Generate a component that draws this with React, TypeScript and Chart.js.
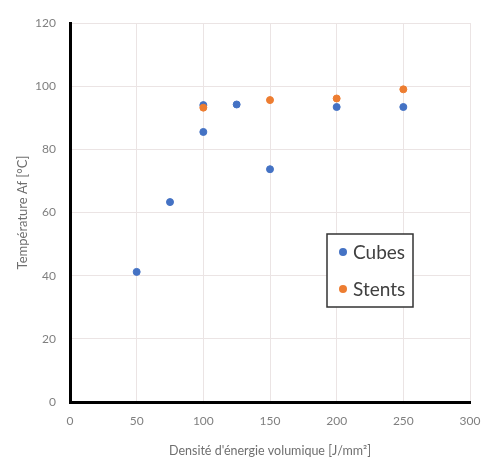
import React, { useEffect, useRef } from "react";
import { Chart, registerables } from "chart.js";

Chart.register(...registerables);

const cubesX = [50, 75, 100, 100, 125, 150, 200, 250];
const cubesY = [41.2, 63.3, 85.5, 94.0, 94.2, 73.7, 93.4, 93.4];
const stentsX = [100, 150, 200, 250];
const stentsY = [93.2, 95.6, 96.1, 99.0];
const seriesNames = ["Cubes", "Stents"];
const xTitle = "Densité d'énergie volumique [J/mm²]";
const yTitle = "Température Af [°C]";

const BLUE = "#4472C4";
const ORANGE = "#ED7D31";
const FONT = "Lato, 'Open Sans', sans-serif";

const legendPlugin = {
  id: "boxLegend",
  afterDraw(chart: any) {
    const ctx = chart.ctx;
    const x = 327, y = 234, w = 86, h = 73;
    ctx.save();
    ctx.fillStyle = "#ffffff";
    ctx.fillRect(x, y, w, h);
    ctx.strokeStyle = "#333333";
    ctx.lineWidth = 1.5;
    ctx.strokeRect(x, y, w, h);
    const colors = [BLUE, ORANGE];
    const rows = [252, 289];
    ctx.font = "19px " + FONT;
    ctx.textBaseline = "middle";
    ctx.textAlign = "left";
    seriesNames.forEach((name, i) => {
      ctx.fillStyle = colors[i];
      ctx.beginPath();
      ctx.arc(x + 16, rows[i], 4, 0, Math.PI * 2);
      ctx.fill();
      ctx.fillStyle = "#404040";
      ctx.fillText(name, x + 26, rows[i] + 1);
    });
    ctx.restore();
  },
};

export default function App() {
  const ref = useRef<HTMLCanvasElement>(null);
  useEffect(() => {
    if (!ref.current) return;
    const chart = new Chart(ref.current, {
      type: "scatter",
      data: {
        datasets: [
          {
            label: seriesNames[0],
            data: cubesX.map((v, i) => ({ x: v, y: cubesY[i] })),
            backgroundColor: BLUE,
            borderColor: BLUE,
            pointRadius: 3.5,
            order: 1,
          },
          {
            label: seriesNames[1],
            data: stentsX.map((v, i) => ({ x: v, y: stentsY[i] })),
            backgroundColor: ORANGE,
            borderColor: ORANGE,
            pointRadius: 3.5,
            order: 0,
          },
        ],
      },
      options: {
        responsive: false,
        animation: false,
        layout: { padding: { top: 23, right: 11, left: 0, bottom: 0 } },
        plugins: { legend: { display: false }, tooltip: { enabled: false } },
        scales: {
          x: {
            type: "linear",
            min: 0,
            max: 300,
            ticks: { stepSize: 50, color: "#7f7f7f", font: { family: FONT, size: 12 }, padding: 12 },
            grid: { color: "#ebe4e4", drawTicks: false, lineWidth: 1 },
            border: { color: "#000000", width: 3 },
            title: { display: true, text: xTitle, color: "#6f6f6f", font: { family: FONT, size: 12.5 }, padding: { top: 5, bottom: 0 } },
            afterFit(scale: any) { scale.height = 56; scale.paddingRight = 0; scale.paddingLeft = 0; },
          },
          y: {
            type: "linear",
            min: 0,
            max: 120,
            ticks: { stepSize: 20, color: "#7f7f7f", font: { family: FONT, size: 12 }, padding: 14 },
            grid: { color: "#ebe4e4", drawTicks: false, lineWidth: 1 },
            border: { color: "#000000", width: 3 },
            title: { display: true, text: yTitle, color: "#6f6f6f", font: { family: FONT, size: 13 }, padding: { top: 15, bottom: 0 } },
            afterFit(scale: any) { scale.width = 70; scale.paddingTop = 0; scale.paddingBottom = 0; },
          },
        },
      },
      plugins: [legendPlugin],
    } as any);
    return () => chart.destroy();
  }, []);
  return (
    <div style={{ position: "absolute", left: 0, top: 0, width: 481, height: 458, background: "#fff" }}>
      <canvas ref={ref} width={481} height={458} />
    </div>
  );
}
